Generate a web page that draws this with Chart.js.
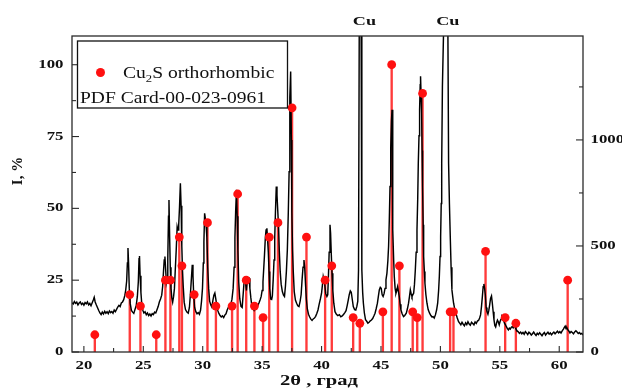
<!DOCTYPE html>
<html>
<head>
<meta charset="utf-8">
<title>XRD Cu2S</title>
<script src="https://cdn.jsdelivr.net/npm/chart.js@4/dist/chart.umd.min.js"></script>
<style>
  html, body { margin: 0; padding: 0; background: #fff; }
  canvas { display: block; }
</style>
</head>
<body>
<canvas id="chartXrd" width="622" height="391"></canvas>
<script>
// ---- tick labels ----
const xTicks = [20, 25, 30, 35, 40, 45, 50, 55, 60];
const yTicks = [0, 25, 50, 75, 100];
const y2Ticks = [0, 500, 1000];

// ---- Cu2S orthorhombic, PDF 00-023-0961 (2theta, I %) ----
const refAngle = [20.92, 23.86, 24.76, 26.09, 26.86, 27.28, 28.03, 28.25, 29.28, 30.4,
  31.11, 32.47, 32.94, 33.66, 34.35, 35.08, 35.6, 36.33, 37.52, 38.73,
  40.3, 40.86, 42.66, 43.22, 45.16, 45.9, 46.55, 47.67, 48.05, 48.5,
  50.82, 51.1, 53.8, 55.45, 56.35, 60.71];
const refIntensity = [6, 20, 16, 6, 25, 25, 40, 30, 20, 45,
  16, 16, 55, 25, 16, 12, 40, 45, 85, 40,
  25, 30, 12, 10, 14, 100, 30, 14, 12, 90,
  14, 14, 35, 12, 10, 25];

// ---- Cu peak labels ----
const cuLabels = ["Cu", "Cu"];
const cuLabelAngle = [43.61, 50.62];

// ---- measured pattern [2theta, counts] ----
const xrdPattern = [
  [19.0,232],[19.1,226],[19.2,238],[19.3,229],[19.4,235],[19.5,222],[19.6,231],[19.7,236],[19.8,224],[19.9,230],
  [20.0,221],[20.1,233],[20.2,227],[20.3,236],[20.4,222],[20.5,229],[20.6,218],[20.7,232],[20.8,246],[20.87,258],
  [20.95,236],[21.05,222],[21.15,209],[21.25,196],[21.35,184],[21.45,176],[21.55,188],[21.65,179],[21.75,192],[21.85,183],
  [21.95,190],[22.05,181],[22.15,194],[22.25,186],[22.35,191],[22.45,183],[22.55,198],[22.65,190],[22.75,201],[22.85,212],
  [22.95,220],[23.05,214],[23.15,231],[23.25,236],[23.35,247],[23.45,268],[23.52,292],[23.6,335],[23.66,420],[23.71,490],
  [23.76,420],[23.82,300],[23.9,228],[24.0,196],[24.1,188],[24.2,182],[24.3,200],[24.4,218],[24.5,262],[24.58,330],
  [24.64,440],[24.68,453],[24.73,360],[24.8,280],[24.88,220],[24.97,196],[25.05,184],[25.15,190],[25.25,176],[25.35,184],
  [25.45,172],[25.55,179],[25.65,170],[25.75,181],[25.85,176],[25.95,188],[26.05,184],[26.15,199],[26.25,214],[26.35,236],
  [26.45,250],[26.55,268],[26.63,310],[26.7,380],[26.76,434],[26.82,450],[26.88,390],[26.94,330],[27.0,350],[27.06,440],
  [27.12,640],[27.16,717],[27.21,560],[27.27,400],[27.33,300],[27.4,255],[27.47,235],[27.55,262],[27.62,300],[27.69,387],
  [27.77,481],[27.85,591],[27.92,575],[27.98,600],[28.05,686],[28.12,796],[28.18,690],[28.24,500],[28.3,380],[28.36,310],
  [28.44,235],[28.55,200],[28.67,188],[28.78,183],[28.88,210],[28.96,270],[29.04,340],[29.12,411],[29.18,360],[29.24,270],
  [29.32,210],[29.42,190],[29.52,180],[29.62,186],[29.72,178],[29.82,198],[29.9,240],[29.98,300],[30.05,420],[30.1,520],
  [30.16,654],[30.22,630],[30.28,600],[30.35,540],[30.42,400],[30.5,300],[30.58,240],[30.68,222],[30.77,212],[30.86,245],
  [30.94,268],[31.02,278],[31.1,250],[31.18,220],[31.27,195],[31.36,182],[31.46,172],[31.56,165],[31.66,170],[31.76,162],
  [31.86,174],[31.96,180],[32.06,198],[32.16,210],[32.26,218],[32.36,226],[32.46,248],[32.56,300],[32.64,400],[32.71,540],
  [32.77,660],[32.84,765],[32.9,640],[32.96,480],[33.03,330],[33.12,250],[33.22,215],[33.32,210],[33.4,270],[33.48,330],
  [33.55,355],[33.62,320],[33.68,290],[33.74,330],[33.82,345],[33.9,348],[33.97,300],[34.05,255],[34.14,214],[34.24,205],
  [34.33,196],[34.44,203],[34.54,208],[34.64,220],[34.74,232],[34.84,248],[34.92,262],[35.0,290],[35.07,330],[35.14,400],
  [35.2,460],[35.27,540],[35.33,575],[35.4,583],[35.46,530],[35.52,470],[35.58,380],[35.64,300],[35.72,250],[35.8,248],
  [35.86,265],[35.93,340],[36.0,434],[36.06,540],[36.12,660],[36.19,780],[36.25,740],[36.32,660],[36.38,590],[36.45,470],
  [36.52,380],[36.6,320],[36.7,285],[36.8,268],[36.88,262],[36.96,310],[37.04,380],[37.12,480],[37.2,654],[37.27,850],
  [37.33,1200],[37.4,1323],[37.46,1000],[37.5,660],[37.56,480],[37.62,380],[37.7,285],[37.8,245],[37.9,230],[38.0,218],
  [38.1,214],[38.2,240],[38.28,270],[38.36,340],[38.44,400],[38.52,434],[38.58,400],[38.65,320],[38.72,250],[38.8,205],
  [38.9,178],[39.0,165],[39.1,155],[39.2,149],[39.3,156],[39.4,160],[39.5,168],[39.6,182],[39.7,198],[39.8,226],
  [39.9,250],[40.0,277],[40.08,320],[40.14,355],[40.2,340],[40.27,318],[40.35,275],[40.45,262],[40.52,270],[40.58,360],
  [40.64,470],[40.71,600],[40.76,560],[40.82,460],[40.88,371],[40.95,290],[41.03,230],[41.13,190],[41.25,178],[41.37,172],
  [41.5,176],[41.62,166],[41.74,170],[41.86,178],[41.96,186],[42.06,195],[42.16,220],[42.25,246],[42.33,270],[42.42,288],
  [42.5,282],[42.58,250],[42.67,214],[42.78,200],[42.88,198],[42.97,215],[43.05,240],[43.11,387],[43.17,1500],[43.25,5000],
  [43.33,1500],[43.39,387],[43.46,280],[43.52,230],[43.6,185],[43.7,152],[43.8,145],[43.9,136],[44.0,140],[44.1,147],
  [44.2,151],[44.3,158],[44.4,170],[44.5,183],[44.6,205],[44.7,230],[44.78,262],[44.86,293],[44.94,305],[45.02,300],
  [45.1,270],[45.18,262],[45.26,275],[45.34,300],[45.42,340],[45.5,371],[45.58,430],[45.64,497],[45.7,620],[45.76,780],
  [45.82,960],[45.88,1090],[45.93,1142],[45.97,880],[46.01,576],[46.07,430],[46.12,356],[46.19,300],[46.26,277],[46.33,290],
  [46.4,308],[46.47,285],[46.54,261],[46.61,225],[46.68,198],[46.78,180],[46.9,167],[47.0,172],[47.13,183],[47.23,205],
  [47.32,230],[47.4,262],[47.47,293],[47.54,275],[47.61,261],[47.68,270],[47.75,277],[47.82,320],[47.89,387],[47.96,470],
  [48.03,576],[48.09,720],[48.14,890],[48.2,1020],[48.25,1142],[48.3,1260],[48.33,1300],[48.38,1200],[48.42,1126],[48.46,950],
  [48.5,780],[48.55,600],[48.59,450],[48.65,380],[48.7,324],[48.78,270],[48.87,230],[48.97,200],[49.09,183],[49.2,172],
  [49.3,165],[49.38,167],[49.48,160],[49.58,175],[49.68,198],[49.77,230],[49.85,290],[49.91,356],[49.97,450],[50.02,545],
  [50.07,700],[50.11,890],[50.17,1252],[50.27,1520],[50.45,5000],[50.63,1520],[50.69,890],[50.76,700],[50.83,545],[50.9,400],
  [50.97,293],[51.04,260],[51.11,230],[51.2,205],[51.3,183],[51.42,160],[51.53,143],[51.62,136],[51.72,128],[51.82,140],
  [51.92,131],[52.02,124],[52.12,138],[52.22,129],[52.32,143],[52.42,132],[52.52,126],[52.62,140],[52.72,134],[52.82,128],
  [52.92,142],[53.02,135],[53.12,146],[53.22,150],[53.3,160],[53.38,175],[53.46,215],[53.53,260],[53.6,308],[53.66,321],
  [53.72,300],[53.78,270],[53.85,210],[53.92,190],[54.0,178],[54.07,195],[54.14,220],[54.22,253],[54.3,264],[54.37,230],
  [54.44,190],[54.51,151],[54.58,125],[54.65,118],[54.73,138],[54.8,150],[54.87,142],[54.95,128],[55.02,144],[55.1,155],
  [55.18,167],[55.25,160],[55.32,148],[55.4,135],[55.48,128],[55.56,118],[55.64,110],[55.72,104],[55.8,112],[55.88,108],
  [55.96,116],[56.04,120],[56.12,114],[56.2,126],[56.28,118],[56.36,108],[56.45,100],[56.55,95],[56.65,88],[56.75,94],
  [56.85,86],[56.95,92],[57.05,84],[57.15,96],[57.25,90],[57.35,82],[57.45,93],[57.55,88],[57.65,80],[57.75,86],
  [57.85,94],[57.95,85],[58.05,78],[58.15,88],[58.25,82],[58.35,91],[58.45,84],[58.55,77],[58.65,86],[58.75,92],
  [58.85,80],[58.95,87],[59.05,93],[59.15,84],[59.25,90],[59.35,81],[59.45,88],[59.55,94],[59.65,86],[59.75,92],
  [59.85,98],[59.95,90],[60.05,96],[60.15,90],[60.25,100],[60.35,108],[60.43,116],[60.5,122],[60.57,110],[60.65,114],
  [60.73,104],[60.82,98],[60.9,90],[61.0,97],[61.1,92],[61.2,86],[61.3,95],[61.4,100],[61.5,94],[61.6,87],
  [61.7,92],[61.8,85],[61.9,88],[62.0,80]
];

const refPoints = refAngle.map((a, i) => ({ x: a, y: refIntensity[i] }));
const xrdPoints = xrdPattern.map(p => ({ x: p[0], y: p[1] }));

const SERIF = '"Liberation Serif", "Times New Roman", serif';

// text stretched horizontally (the original figure is wide-squashed)
function drawText(ctx, str, x, y, font, sx, align, baseline) {
  ctx.save();
  ctx.font = font;
  ctx.translate(x, y);
  ctx.scale(sx, 1);
  ctx.textAlign = align || "center";
  ctx.textBaseline = baseline || "middle";
  ctx.fillText(str, 0, 0);
  ctx.restore();
}

const decorPlugin = {
  id: "decor",
  afterDraw(chart) {
    const { ctx, chartArea: a, scales } = chart;
    const sx = scales.x, sy = scales.y, sy2 = scales.y2;
    ctx.save();

    // frame
    ctx.strokeStyle = "#2a2a2a";
    ctx.lineWidth = 1.3;
    ctx.strokeRect(a.left, a.top, a.right - a.left, a.bottom - a.top);

    // inward ticks
    const line = (x1, y1, x2, y2) => { ctx.beginPath(); ctx.moveTo(x1, y1); ctx.lineTo(x2, y2); ctx.stroke(); };
    ctx.lineWidth = 1.1;
    for (let v = 20; v <= 60; v += 2.5) {
      const x = sx.getPixelForValue(v);
      line(x, a.bottom, x, a.bottom - (v % 5 === 0 ? 6 : 4));
    }
    for (let v = 0; v <= 100; v += 12.5) {
      const y = sy.getPixelForValue(v);
      line(a.left, y, a.left + (v % 25 === 0 ? 7 : 4), y);
    }
    for (let v = 0; v <= 1250; v += 250) {
      const y = sy2.getPixelForValue(v);
      line(a.right, y, a.right - (v % 500 === 0 ? 7 : 4), y);
    }

    // tick labels
    ctx.fillStyle = "#111";
    const tickFont = "bold 12px " + SERIF;
    xTicks.forEach(v => drawText(ctx, String(v), sx.getPixelForValue(v), 365.5, tickFont, 1.4));
    yTicks.forEach(v => drawText(ctx, String(v), 63.5, sy.getPixelForValue(v), tickFont, 1.4, "right"));
    y2Ticks.forEach(v => drawText(ctx, String(v), 590.5, sy2.getPixelForValue(v), tickFont, 1.4, "left"));

    // axis titles
    ctx.font = "bold 14px " + SERIF;
    const xt = "2θ , град";
    drawText(ctx, xt, 319, 384.5, ctx.font, 78 / ctx.measureText(xt).width, "center", "alphabetic");
    ctx.save();
    ctx.translate(18, 171);
    ctx.rotate(-Math.PI / 2);
    drawText(ctx, "I, %", 0, 0, "bold 15px " + SERIF, 1.0);
    ctx.restore();

    // Cu labels over the substrate peaks
    cuLabels.forEach((t, i) => drawText(ctx, t, sx.getPixelForValue(cuLabelAngle[i]), 21.3, "bold 12.5px " + SERIF, 1.45));

    // legend box
    ctx.fillStyle = "#fff";
    ctx.fillRect(77.5, 41, 210, 67);
    ctx.strokeStyle = "#111";
    ctx.lineWidth = 1.3;
    ctx.strokeRect(77.5, 41, 210, 67);
    ctx.fillStyle = "#ff1010";
    ctx.beginPath(); ctx.arc(100.5, 72.5, 4.5, 0, Math.PI * 2); ctx.fill();

    ctx.fillStyle = "#111";
    const big = "17px " + SERIF, small = "11px " + SERIF, st = 1.15;
    let x = 123;
    ctx.font = big; drawText(ctx, "Cu", x, 78, big, st, "left", "alphabetic"); x += ctx.measureText("Cu").width * st;
    ctx.font = small; drawText(ctx, "2", x, 82, small, st, "left", "alphabetic"); x += ctx.measureText("2").width * st;
    drawText(ctx, "S orthorhombic", x, 78, big, st, "left", "alphabetic");
    ctx.font = big;
    const pdf = "PDF Card-00-023-0961";
    drawText(ctx, pdf, 80, 103, big, 186 / ctx.measureText(pdf).width, "left", "alphabetic");

    ctx.restore();
  }
};

const hiddenAxis = { grid: { display: false }, border: { display: false }, ticks: { display: false } };

new Chart(document.getElementById("chartXrd"), {
  type: "scatter",
  data: {
    datasets: [
      { type: "scatter", label: "Cu2S", data: refPoints, yAxisID: "y", order: 0,
        pointRadius: 4.4, pointBackgroundColor: "#ff1010", pointBorderWidth: 0 },
      { type: "line", label: "XRD", data: xrdPoints, yAxisID: "y2", order: 1,
        borderColor: "#000", borderWidth: 1.45, pointRadius: 0, tension: 0 },
      { type: "bar", label: "stems", data: refPoints, yAxisID: "y", order: 2,
        backgroundColor: "#ff3a3a", barThickness: 1.7, grouped: false }
    ]
  },
  options: {
    responsive: false,
    animation: false,
    devicePixelRatio: 1,
    layout: { padding: { top: 36, left: 0, right: 0, bottom: 0 } },
    plugins: { legend: { display: false }, tooltip: { enabled: false } },
    scales: {
      x: { ...hiddenAxis, type: "linear", min: 19, max: 62, offset: false,
           afterFit: s => { s.height = 39; } },
      y: { ...hiddenAxis, type: "linear", position: "left", min: 0, max: 110,
           afterFit: s => { s.width = 72; } },
      y2: { ...hiddenAxis, type: "linear", position: "right", min: 0, max: 1490,
            afterFit: s => { s.width = 39; } }
    }
  },
  plugins: [decorPlugin]
});
</script>
</body>
</html>
